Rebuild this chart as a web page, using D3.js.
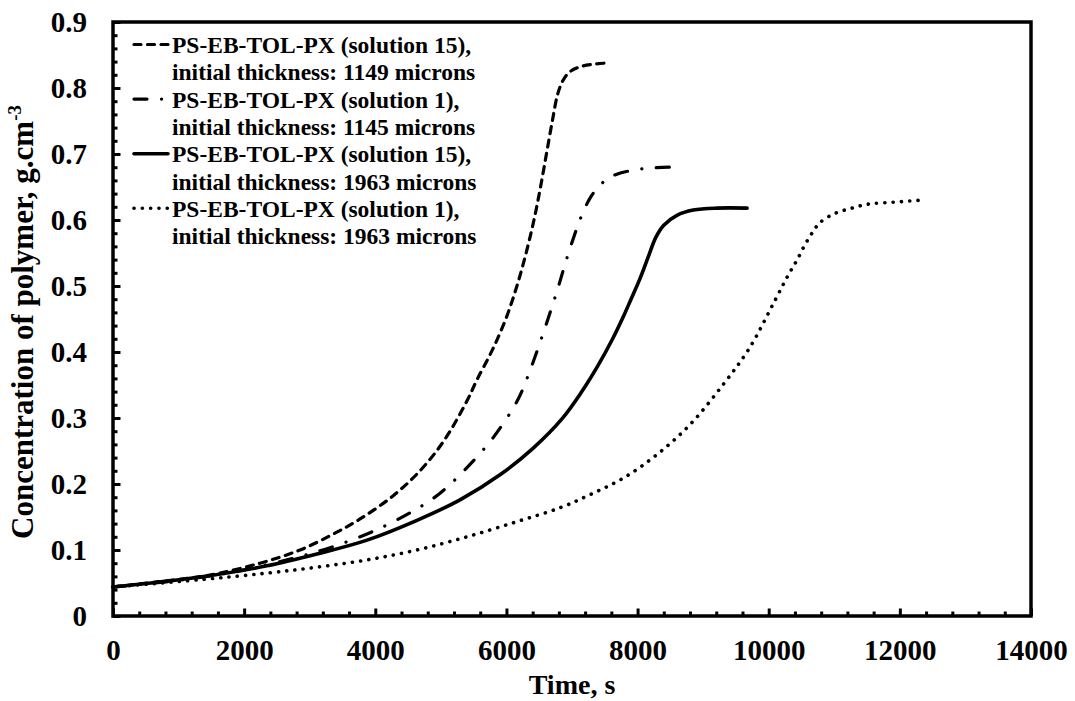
<!DOCTYPE html>
<html>
<head>
<meta charset="utf-8">
<script src="https://cdn.jsdelivr.net/npm/d3@7"></script>
<style>
  body { margin: 0; background: #fff; }
  svg { display: block; }
  text { font-family: "Times New Roman", "Liberation Serif", serif; font-weight: bold; fill: #000; }
</style>
</head>
<body>
<svg id="chart" width="1075" height="701"></svg>
<script>
// Axis ticks and labels
const xTickValues = [0, 2000, 4000, 6000, 8000, 10000, 12000, 14000];
const xTickLabels = ["0", "2000", "4000", "6000", "8000", "10000", "12000", "14000"];
const yTickValues = [0, 0.1, 0.2, 0.3, 0.4, 0.5, 0.6, 0.7, 0.8, 0.9];
const yTickLabels = ["0", "0.1", "0.2", "0.3", "0.4", "0.5", "0.6", "0.7", "0.8", "0.9"];

// PS-EB-TOL-PX (solution 15), initial thickness 1149 microns
const timeS15a = [0, 700, 1480, 2242, 2852, 3355, 3767, 4270, 4682, 5050, 5399, 5551, 5780, 5990, 6160, 6300, 6420, 6520, 6610, 6700, 6780, 6860, 6960, 7120, 7330, 7550];
const concS15a = [0.044, 0.052, 0.062, 0.080, 0.100, 0.124, 0.147, 0.182, 0.220, 0.266, 0.326, 0.358, 0.402, 0.450, 0.500, 0.550, 0.600, 0.650, 0.700, 0.750, 0.790, 0.811, 0.824, 0.832, 0.836, 0.838];

// PS-EB-TOL-PX (solution 1), initial thickness 1145 microns
const timeS1a = [0, 1000, 1800, 2654, 3355, 4072, 4712, 4987, 5292, 5780, 6160, 6314, 6480, 6640, 6780, 6900, 7020, 7140, 7280, 7430, 7600, 7900, 8220, 8495];
const concS1a = [0.044, 0.054, 0.066, 0.085, 0.105, 0.133, 0.167, 0.186, 0.214, 0.268, 0.325, 0.360, 0.405, 0.452, 0.495, 0.535, 0.572, 0.605, 0.634, 0.653, 0.666, 0.675, 0.679, 0.680];

// PS-EB-TOL-PX (solution 15), initial thickness 1963 microns
const timeS15b = [0, 1327, 2348, 3111, 3874, 4636, 5292, 5902, 6405, 6850, 7150, 7400, 7620, 7780, 7900, 8040, 8170, 8280, 8400, 8600, 8850, 9210, 9670];
const concS15b = [0.044, 0.059, 0.076, 0.094, 0.115, 0.145, 0.176, 0.214, 0.254, 0.299, 0.340, 0.380, 0.420, 0.453, 0.480, 0.512, 0.546, 0.574, 0.592, 0.607, 0.615, 0.618, 0.618];

// PS-EB-TOL-PX (solution 1), initial thickness 1963 microns
const timeS1b = [0, 1327, 2348, 3111, 3874, 4636, 5399, 6160, 6817, 7300, 7800, 8300, 8800, 9300, 9700, 10100, 10300, 10430, 10550, 10680, 10780, 11010, 11270, 11515, 11900, 12320];
const concS1b = [0.044, 0.055, 0.065, 0.074, 0.085, 0.100, 0.120, 0.143, 0.164, 0.185, 0.210, 0.245, 0.290, 0.350, 0.405, 0.479, 0.517, 0.539, 0.562, 0.583, 0.596, 0.610, 0.618, 0.624, 0.627, 0.630];

const seriesNames = [
  ["PS-EB-TOL-PX (solution 15),", "initial thickness: 1149 microns"],
  ["PS-EB-TOL-PX (solution 1),", "initial thickness: 1145 microns"],
  ["PS-EB-TOL-PX (solution 15),", "initial thickness: 1963 microns"],
  ["PS-EB-TOL-PX (solution 1),", "initial thickness: 1963 microns"]
];

const series = [
  { t: timeS15a, c: concS15a, dash: "7,6.5", cap: "round", width: 3.2 },
  { t: timeS1a, c: concS1a, dash: "13,14.5,0.1,14.5", cap: "round", width: 3.2 },
  { t: timeS15b, c: concS15b, dash: null, cap: "round", width: 3.6 },
  { t: timeS1b, c: concS1b, dash: "0.1,8.2", cap: "round", width: 3.6 }
];

const svg = d3.select("#chart");
svg.append("rect").attr("width", 1075).attr("height", 701).attr("fill", "#fff");

const plot = { left: 113, right: 1031, top: 22, bottom: 616 };
const x = d3.scaleLinear().domain([0, 14000]).range([plot.left, plot.right]);
const y = d3.scaleLinear().domain([0, 0.9]).range([plot.bottom, plot.top]);

// minor ticks (inward)
const xMinor = d3.range(0, 14000, 400).filter(v => v % 2000 !== 0);
const yMinor = d3.range(0, 45).map(i => i * 0.02).filter(v => Math.abs(v * 10 - Math.round(v * 10)) > 1e-6);

const gx = svg.append("g").attr("transform", `translate(0,${plot.bottom})`);
gx.call(d3.axisBottom(x).tickValues(xMinor).tickSize(-4.5).tickFormat(""));
gx.call(g => g.select(".domain").remove());
const gxMajor = svg.append("g").attr("transform", `translate(0,${plot.bottom})`)
  .call(d3.axisBottom(x).tickValues(xTickValues).tickSize(-7.5)
    .tickFormat((d, i) => xTickLabels[i]));
gxMajor.select(".domain").remove();
gxMajor.selectAll("text").attr("y", 44).attr("dy", null).attr("font-size", 29).attr("font-family", null);

const gy = svg.append("g").attr("transform", `translate(${plot.left},0)`);
gy.call(d3.axisLeft(y).tickValues(yMinor).tickSize(-4.5).tickFormat(""));
gy.call(g => g.select(".domain").remove());
const gyMajor = svg.append("g").attr("transform", `translate(${plot.left},0)`)
  .call(d3.axisLeft(y).tickValues(yTickValues).tickSize(-7.5)
    .tickFormat((d, i) => yTickLabels[i]));
gyMajor.select(".domain").remove();
gyMajor.selectAll("text").attr("x", -26).attr("dy", "0.34em").attr("font-size", 29).attr("font-family", null);

svg.selectAll(".tick line").attr("stroke", "#000").attr("stroke-width", 3);

// plot frame
svg.append("rect")
  .attr("x", plot.left).attr("y", plot.top)
  .attr("width", plot.right - plot.left).attr("height", plot.bottom - plot.top)
  .attr("fill", "none").attr("stroke", "#000").attr("stroke-width", 3.5);

// curves
const line = d3.line()
  .x(d => x(d[0])).y(d => y(d[1]))
  .curve(d3.curveCatmullRom.alpha(0.5));

series.forEach(s => {
  const pts = s.t.map((t, i) => [t, s.c[i]]);
  svg.append("path")
    .attr("d", line(pts))
    .attr("fill", "none")
    .attr("stroke", "#000")
    .attr("stroke-width", s.width)
    .attr("stroke-linecap", s.cap)
    .attr("stroke-linejoin", "round")
    .attr("stroke-dasharray", s.dash);
});

// legend
const legend = svg.append("g");
const lineH = 27.3;
const firstBase = 53;
series.forEach((s, i) => {
  const base = firstBase + i * 2 * lineH;
  legend.append("line")
    .attr("x1", 134).attr("x2", 168)
    .attr("y1", base - 8.5).attr("y2", base - 8.5)
    .attr("stroke", "#000").attr("stroke-width", s.width)
    .attr("stroke-linecap", s.cap)
    .attr("stroke-dasharray", s.dash);
  legend.append("text").attr("x", 172).attr("y", base).attr("font-size", 23.5).text(seriesNames[i][0]);
  legend.append("text").attr("x", 172).attr("y", base + lineH).attr("font-size", 23.5).text(seriesNames[i][1]);
});

// axis titles
svg.append("text")
  .attr("x", (plot.left + plot.right) / 2).attr("y", 694)
  .attr("text-anchor", "middle").attr("font-size", 28)
  .text("Time, s");

const yt = svg.append("text")
  .attr("transform", `translate(33,${(plot.top + plot.bottom) / 2 + 3}) rotate(-90)`)
  .attr("text-anchor", "middle").attr("font-size", 31);
yt.append("tspan").text("Concentration of polymer, g.cm");
yt.append("tspan").attr("dy", -12).attr("font-size", 19).text("-3");
</script>
</body>
</html>
